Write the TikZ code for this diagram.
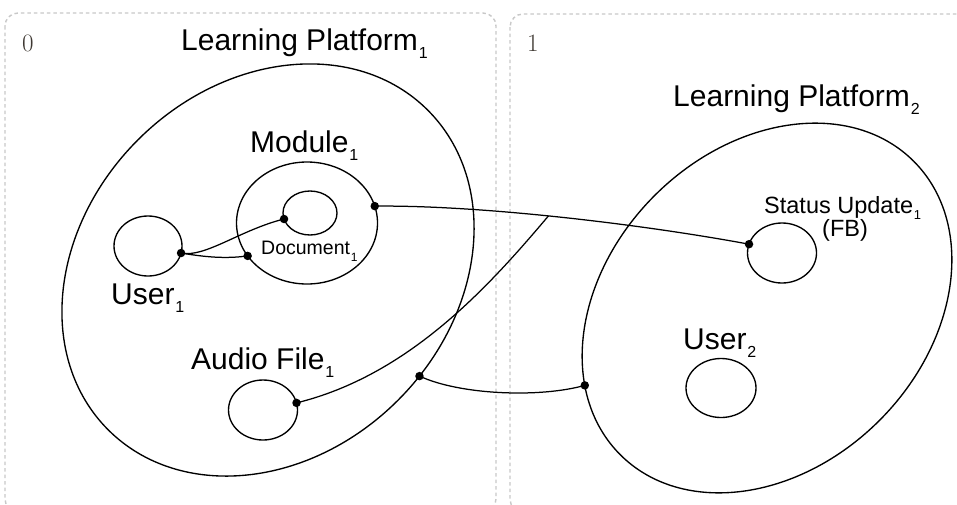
\documentclass[tikz,border=0pt]{standalone}
\usepackage{fontspec}
\newfontfamily\arialfont{Liberation Sans}
\usetikzlibrary{shapes.geometric}
% lowered index digit: size, drop, text
\newcommand{\lowsub}[3]{\kern0.8pt\raisebox{-#2pt}{\fontsize{#1}{#1}\selectfont #3}}
\definecolor{panelgray}{RGB}{200,200,200}
\definecolor{panelnum}{RGB}{62,56,50}
\begin{document}
\begin{tikzpicture}[x=1pt,y=-1pt,
  panel/.style={draw=panelgray, dash pattern=on 3.5pt off 3pt, line width=1.4pt, rounded corners=13pt},
  panelnumber/.style={anchor=base west, inner sep=0pt, text=panelnum, font=\fontsize{25}{25}\selectfont},
  region/.style={draw, ellipse, inner sep=0pt, outer sep=0pt, line width=1.35pt},
  dotmark/.style={circle, fill=black, inner sep=0pt, minimum size=8.5pt},
  link/.style={line width=1.25pt},
  biglabel/.style={anchor=base west, inner sep=0pt, font=\arialfont\fontsize{30}{30}\selectfont},
  smalllabel/.style={anchor=base west, inner sep=0pt, font=\arialfont\fontsize{23.5}{23.5}\selectfont},
  tinylabel/.style={anchor=base west, inner sep=0pt, font=\arialfont\fontsize{19.5}{19.5}\selectfont}]
\useasboundingbox (0,0) rectangle (957,504);

% time-step panels
\begin{scope}
  \clip (0,0) rectangle (957,504);
  \draw[panel] (5,13) rectangle (496,512);
  \draw[panel] (510,14) rectangle (975,512);
\end{scope}
\node[panelnumber] (n0) at (22,51) {0};
\node[panelnumber] (n1) at (527,51) {1};

% regions
\node[region, minimum width=452pt, minimum height=368pt, rotate=45] (lp1) at (268,270) {};
\node[region, minimum width=415pt, minimum height=318pt, rotate=45] (lp2) at (767,308) {};
\node[region, minimum width=141pt, minimum height=122pt] (mod) at (307,223) {};
\node[region, minimum width=54pt, minimum height=44pt] (doc) at (310,213) {};
\node[region, minimum width=68pt, minimum height=60pt] (u1) at (148,246) {};
\node[region, minimum width=69pt, minimum height=60pt] (af) at (263,410) {};
\node[region, minimum width=69pt, minimum height=60pt] (su) at (782,253) {};
\node[region, minimum width=70pt, minimum height=59pt] (u2) at (721,388) {};

% labels
\node[biglabel] (tlp1) at (181,50) {Learning Platform\lowsub{16}{8}{1}};
\node[biglabel] (tlp2) at (673,106) {Learning Platform\lowsub{16}{8}{2}};
\node[biglabel] (tmod) at (250,152) {Module\lowsub{16}{8}{1}};
\node[tinylabel] (tdoc) at (261,254) {Document\lowsub{12}{7}{1}};
\node[biglabel] (tu1) at (111,304) {User\lowsub{16}{8}{1}};
\node[biglabel] (taf) at (191,369) {Audio File\lowsub{16}{8}{1}};
\node[biglabel] (tu2) at (683,349) {User\lowsub{16}{8}{2}};
\node[smalllabel] (tsu) at (764,213) {Status Update\lowsub{13}{6}{1}};
\node[smalllabel] (tfb) at (822,236) {(FB)};

% attachment points
\node[dotmark] (pu1) at (u1.-12) {};
\node[dotmark] (pmodl) at (mod.209) {};
\node[dotmark] (pdoc) at (doc.193) {};
\node[dotmark] (pmodr) at (mod.14) {};
\node[dotmark] (psu) at (su.165) {};
\node[dotmark] (paf) at (af.12) {};
\node[dotmark] (plp1) at (lp1.-80) {};
\node[dotmark] (plp2) at (lp2.158) {};

% links
\draw[link] (pu1.center) .. controls (205,257) and (225,259) .. (pmodl.center);
\draw[link] (pu1.center) .. controls (205,258) and (240,230) .. (pdoc.center);
\draw[link] (pmodr.center) .. controls (480,205) and (640,224) .. (psu.center) coordinate[pos=0.47] (join);
\draw[link] (paf.center) .. controls (410,375) and (490,285) .. (join);
\draw[link] (plp1.center) .. controls (460,395) and (540,398) .. (plp2.center);
\end{tikzpicture}
\end{document}
